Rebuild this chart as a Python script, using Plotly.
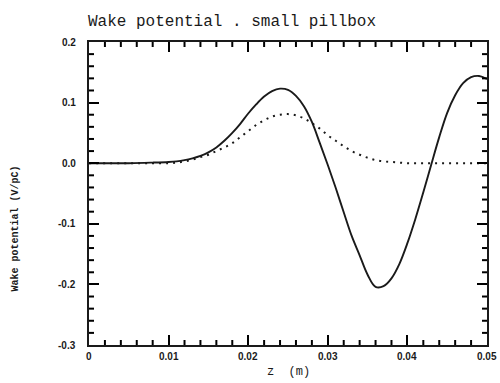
import plotly.graph_objects as go

# longitudinal position along the structure (m)
z = [0.000, 0.005, 0.008, 0.010, 0.011, 0.012, 0.013, 0.014, 0.015, 0.016,
     0.017, 0.018, 0.019, 0.020, 0.021, 0.022, 0.023, 0.024, 0.025, 0.026,
     0.027, 0.028, 0.029, 0.030, 0.031, 0.032, 0.033, 0.034, 0.035, 0.036,
     0.037, 0.038, 0.039, 0.040, 0.041, 0.042, 0.043, 0.044, 0.045, 0.046,
     0.047, 0.048, 0.049, 0.050]

# wake potential (V/pC)
wake = [0.000, 0.000, 0.001, 0.002, 0.003, 0.005, 0.008, 0.012, 0.018, 0.026,
        0.037, 0.050, 0.065, 0.082, 0.097, 0.110, 0.119, 0.123, 0.121, 0.111,
        0.094, 0.068, 0.033, -0.003, -0.041, -0.081, -0.120, -0.152, -0.184, -0.204,
        -0.203, -0.190, -0.166, -0.132, -0.092, -0.048, -0.002, 0.043, 0.083, 0.112,
        0.132, 0.142, 0.144, 0.139]

# bunch charge profile (arbitrary scale)
bunch = [0.000, 0.000, 0.000, 0.000, 0.001, 0.003, 0.006, 0.010, 0.014, 0.020,
         0.026, 0.033, 0.043, 0.053, 0.063, 0.071, 0.077, 0.080, 0.081, 0.079,
         0.074, 0.066, 0.057, 0.046, 0.037, 0.028, 0.020, 0.014, 0.009, 0.005,
         0.003, 0.002, 0.001, 0.000, 0.000, 0.000, 0.000, 0.000, 0.000, 0.000,
         0.000, 0.000, 0.000, 0.000]

x_labels = ["0", "0.01", "0.02", "0.03", "0.04", "0.05"]
y_labels = ["0.2", "0.1", "0.0", "-0.1", "-0.2", "-0.3"]

ink = "#1a1a1a"

fig = go.Figure()
fig.add_trace(go.Scatter(x=z, y=bunch, mode="lines", line_shape="spline",
                         line=dict(color=ink, width=2, dash="2px,5px"),
                         showlegend=False))
fig.add_trace(go.Scatter(x=z, y=wake, mode="lines", line_shape="spline",
                         line=dict(color=ink, width=1.9),
                         showlegend=False))

fig.update_xaxes(range=[0, 0.05], dtick=0.01, ticks="inside", ticklen=10, tickwidth=2,
                 tickcolor="black", mirror="ticks", showticklabels=True,
                 tickfont=dict(size=1, color="rgba(0,0,0,0)"),
                 showline=True, linecolor=ink, linewidth=1.5,
                 showgrid=False, zeroline=False)
fig.update_yaxes(range=[-0.3, 0.2], dtick=0.1, ticks="inside", ticklen=10, tickwidth=2,
                 tickcolor="black", mirror="ticks", showticklabels=True,
                 tickfont=dict(size=1, color="rgba(0,0,0,0)"),
                 showline=True, linecolor=ink, linewidth=1.5,
                 showgrid=False, zeroline=False)

# short inward ticks between the labelled values on all four edges
for k in range(26):
    if k % 5 == 0:
        continue
    xv = k * 0.002
    yv = -0.3 + k * 0.02
    for anchor, sign in ((0, 1), (1, -1)):
        fig.add_shape(type="line", xref="x", yref="paper", x0=xv, x1=xv,
                      ysizemode="pixel", yanchor=anchor, y0=0, y1=sign * 5,
                      line=dict(color="black", width=2))
        fig.add_shape(type="line", xref="paper", yref="y", y0=yv, y1=yv,
                      xsizemode="pixel", xanchor=anchor, x0=0, x1=sign * 5,
                      line=dict(color="black", width=2))

label_font = dict(family="Liberation Sans", size=10, color=ink)
for i, lab in enumerate(x_labels):
    fig.add_annotation(text="<b>" + lab + "</b>", x=i * 0.01, y=0, xref="x", yref="paper",
                       yshift=-11, xanchor="center", yanchor="middle",
                       showarrow=False, font=label_font)
for i, lab in enumerate(y_labels):
    fig.add_annotation(text="<b>" + lab + "</b>", x=0, y=0.2 - i * 0.1, xref="paper", yref="y",
                       xshift=-11, xanchor="right", yanchor="middle",
                       showarrow=False, font=label_font)

fig.add_annotation(text="z  (m)", xref="paper", yref="paper",
                   x=0.5, y=0, yshift=-27, xanchor="center", yanchor="middle",
                   showarrow=False, font=dict(family="Liberation Mono", size=12, color=ink))

fig.add_annotation(text="<b>Wake potential (V/pC)</b>", xref="paper", yref="paper",
                   x=-0.185, y=0.386, xanchor="center", yanchor="middle", textangle=-90,
                   showarrow=False, font=dict(family="Liberation Mono", size=10, color=ink))

fig.update_layout(
    width=500, height=383,
    margin=dict(l=89, r=11, t=42, b=38),
    paper_bgcolor="white", plot_bgcolor="white",
    title=dict(text="Wake potential . small pillbox", x=88 / 500, xanchor="left",
               y=1 - 20 / 383, yanchor="middle",
               font=dict(family="Liberation Mono", size=16, color=ink)),
)

fig.write_html("out.html")
